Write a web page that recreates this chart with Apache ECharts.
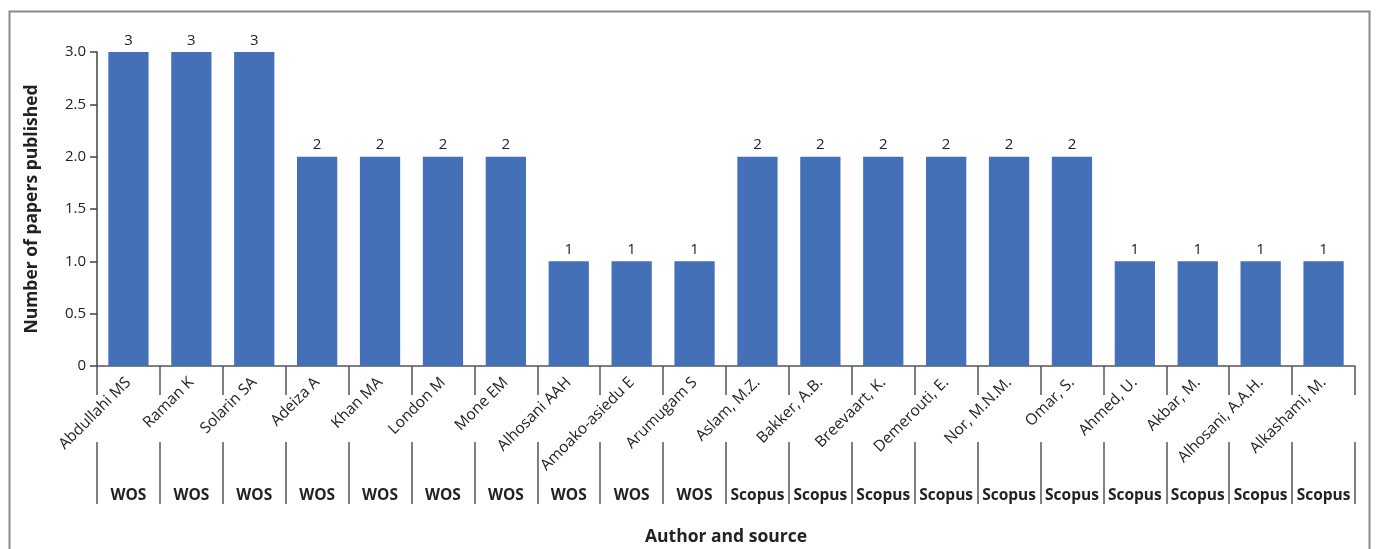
<!DOCTYPE html>
<html>
<head>
<meta charset="utf-8">
<script src="https://cdn.jsdelivr.net/npm/echarts@6/dist/echarts.min.js"></script>
<style>
  html, body { margin: 0; padding: 0; background: #fff; }
  #chart { width: 1376px; height: 549px; }
</style>
</head>
<body>
<div id="chart"></div>
<script>
var authors = ['Abdullahi MS', 'Raman K', 'Solarin SA', 'Adeiza A', 'Khan MA', 'London M', 'Mone EM',
    'Alhosani AAH', 'Amoako-asiedu E', 'Arumugam S', 'Aslam, M.Z.', 'Bakker, A.B.', 'Breevaart, K.',
    'Demerouti, E.', 'Nor, M.N.M.', 'Omar, S.', 'Ahmed, U.', 'Akbar, M.', 'Alhosani, A.A.H.', 'Alkashami, M.'];
var sources = ['WOS', 'WOS', 'WOS', 'WOS', 'WOS', 'WOS', 'WOS', 'WOS', 'WOS', 'WOS',
    'Scopus', 'Scopus', 'Scopus', 'Scopus', 'Scopus', 'Scopus', 'Scopus', 'Scopus', 'Scopus', 'Scopus'];
var papers = [3, 3, 3, 2, 2, 2, 2, 1, 1, 1, 2, 2, 2, 2, 2, 2, 1, 1, 1, 1];

var font = 'Open Sans';
var chart = echarts.init(document.getElementById('chart'));

var option = {
    backgroundColor: '#fff',
    animation: false,
    textStyle: { fontFamily: font },
    graphic: [{
        type: 'rect',
        shape: { x: 9.5, y: 11.5, width: 1360, height: 600 },
        style: { fill: 'none', stroke: '#8a8a8a', lineWidth: 2 },
        silent: true
    }],
    grid: { left: 97, right: 21, top: 52, bottom: 183, containLabel: false, outerBoundsMode: 'none' },
    xAxis: [{
        type: 'category',
        data: authors,
        axisLine: { show: true, lineStyle: { color: '#555', width: 1.5 } },
        axisTick: { show: true, interval: 0, length: 29, lineStyle: { color: '#555', width: 1.5 } },
        axisLabel: { rotate: 45, margin: 14, fontSize: 15.5, color: '#222', interval: 0, fontFamily: font }
    }, {
        type: 'category',
        data: sources,
        position: 'bottom',
        offset: 76,
        axisLine: { show: false },
        axisTick: { show: true, interval: 0, length: 62, lineStyle: { color: '#555', width: 1.5 } },
        axisLabel: { margin: 46, fontSize: 15.5, fontWeight: 'bold', color: '#222', interval: 0, fontFamily: font },
        name: 'Author and source',
        nameLocation: 'middle',
        nameGap: 86,
        nameTextStyle: { fontSize: 17.5, fontWeight: 'bold', color: '#222', fontFamily: font }
    }],
    yAxis: {
        type: 'value',
        min: 0,
        max: 3,
        interval: 0.5,
        name: 'Number of papers published',
        nameLocation: 'middle',
        nameGap: 56,
        nameTextStyle: { fontSize: 17.5, fontWeight: 'bold', color: '#222', fontFamily: font },
        axisLine: { show: true, lineStyle: { color: '#444', width: 1.5 } },
        axisTick: { show: true, length: 7, lineStyle: { color: '#444', width: 1.5 } },
        splitLine: { show: false },
        axisLabel: {
            fontSize: 15, color: '#222', margin: 11, fontFamily: font,
            formatter: function (v) { return v === 0 ? '0' : v.toFixed(1); }
        }
    },
    series: [{
        type: 'bar',
        data: papers,
        xAxisIndex: 0,
        barCategoryGap: '36%',
        itemStyle: { color: '#4470B8' },
        label: { show: true, position: 'top', distance: 4, fontSize: 15, color: '#222', fontFamily: font }
    }]
};

chart.setOption(option);
</script>
</body>
</html>
